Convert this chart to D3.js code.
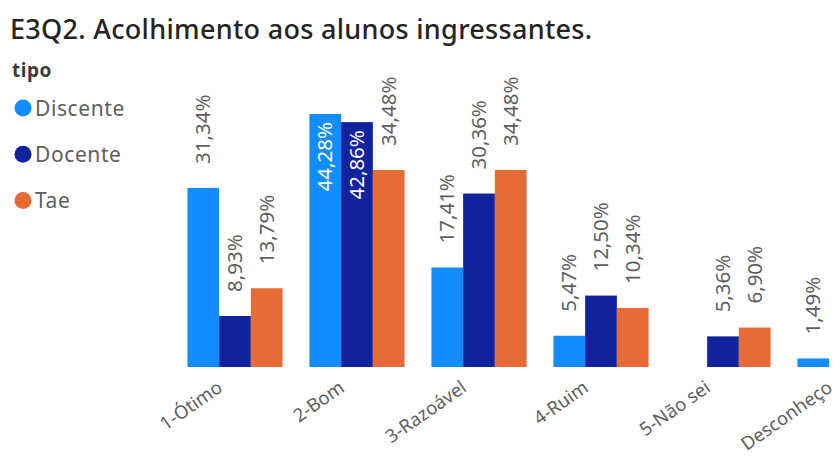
<!DOCTYPE html>
<html><head><meta charset="utf-8">
<script src="https://cdn.jsdelivr.net/npm/d3@7"></script>
<style>
html,body{margin:0;padding:0;background:#fff;}
svg{display:block;font-family:"Noto Sans",sans-serif;}
</style></head>
<body>
<svg id="chart" width="839" height="459"></svg>
<script>
const categories = ["1-Ótimo","2-Bom","3-Razoável","4-Ruim","5-Não sei","Desconheço"];
const seriesNames = ["Discente","Docente","Tae"];
const discente = [31.34, 44.28, 17.41, 5.47, null, 1.49];
const docente  = [8.93, 42.86, 30.36, 12.50, 5.36, null];
const tae      = [13.79, 34.48, 34.48, 10.34, 6.90, null];
const colors = ["#118DFF","#12239E","#E66C37"];
const title = "E3Q2. Acolhimento aos alunos ingressantes.";
const legendTitle = "tipo";

const svg = d3.select("#chart");
const seriesValues = [discente, docente, tae];

const baseY = 367, topY = 114;
const y = d3.scaleLinear().domain([0, 44.28]).range([baseY, topY]);
const x0 = d3.scaleBand().domain(categories).range([174, 906]).paddingInner(0.22).paddingOuter(0.11);
const x1 = d3.scaleBand().domain(seriesNames).range([0, x0.bandwidth()]);

svg.append("text").attr("x", 10).attr("y", 39)
  .attr("font-size", 27).attr("font-weight", 500).attr("letter-spacing", 0.3)
  .attr("fill", "#252423").text(title);

svg.append("text").attr("x", 12).attr("y", 77)
  .attr("font-size", 19).attr("font-weight", "bold").attr("letter-spacing", 0.5)
  .attr("fill", "#3b3a39").text(legendTitle);

const leg = svg.append("g");
seriesNames.forEach((s, i) => {
  const cy = 108 + i * 46.2;
  leg.append("circle").attr("cx", 23).attr("cy", cy).attr("r", 8.5).attr("fill", colors[i]);
  leg.append("text").attr("x", 35).attr("y", cy).attr("dy", "0.36em")
    .attr("font-size", 21).attr("letter-spacing", 0.6).attr("fill", "#605E5C").text(s);
});

const fmt = v => v.toFixed(2).replace(".", ",") + "%";
const data = [];
categories.forEach((c, ci) => {
  seriesNames.forEach((s, si) => {
    const v = seriesValues[si][ci];
    if (v != null) data.push({c, s, si, v});
  });
});

const plot = svg.append("g");
plot.selectAll("rect").data(data).join("rect")
  .attr("x", d => x0(d.c) + x1(d.s))
  .attr("width", x1.bandwidth())
  .attr("y", d => y(d.v))
  .attr("height", d => baseY - y(d.v))
  .attr("fill", d => colors[d.si]);

const insideSet = d => d.v > 40;
plot.selectAll("text.lbl").data(data).join("text").attr("class","lbl")
  .attr("transform", d => {
    const cx = x0(d.c) + x1(d.s) + x1.bandwidth()/2;
    const ty = insideSet(d) ? y(d.v) + 8 : y(d.v) - 24;
    return `translate(${cx},${ty}) rotate(-90)`;
  })
  .attr("text-anchor", d => insideSet(d) ? "end" : "start")
  .attr("dy", "0.35em")
  .attr("font-size", 20.5)
  .attr("fill", d => insideSet(d) ? "#ffffff" : "#605E5C")
  .text(d => fmt(d.v));

const xAxis = svg.append("g");
categories.forEach(c => {
  const cx = x0(c) + x0.bandwidth()/2;
  xAxis.append("text")
    .attr("transform", `translate(${cx - 15},${385}) rotate(-35)`)
    .attr("text-anchor", "end")
    .attr("dy", "0.35em")
    .attr("font-size", 18.5).attr("fill", "#605E5C").text(c);
});
</script>
</body></html>
